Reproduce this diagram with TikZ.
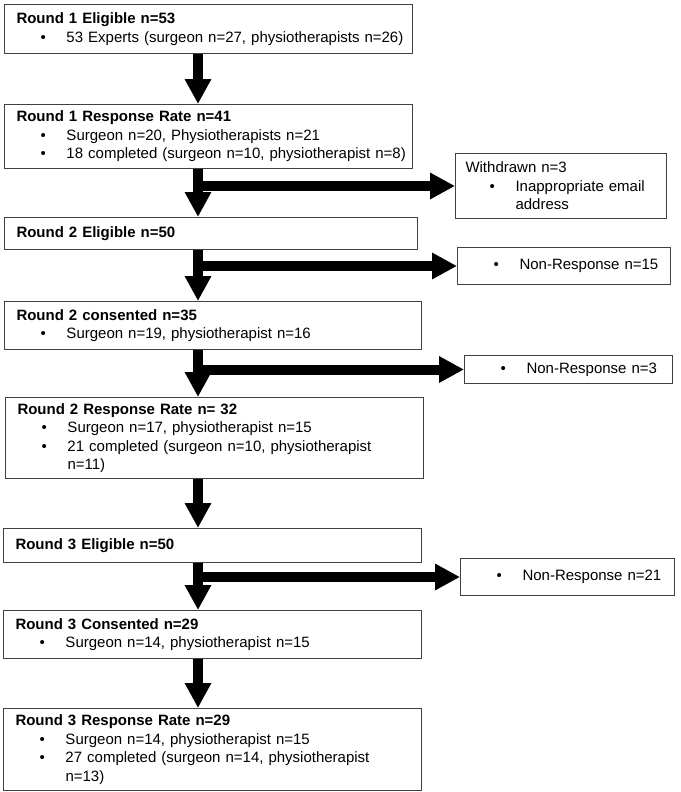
\documentclass[tikz,border=0pt]{standalone}
\usepackage{fontspec}
\setmainfont{Liberation Sans}
\usetikzlibrary{arrows.meta}
\newcommand{\ttl}[1]{\mbox{\hspace*{6pt}#1}}
\newcommand{\bul}[1]{\mbox{\hspace*{30pt}\makebox[26pt][l]{\textbullet}#1}}
\newcommand{\cont}[1]{\mbox{\hspace*{56pt}#1}}
\begin{document}
\begin{tikzpicture}[x=1pt,y=-1pt,
  box/.style={draw=black!75, line width=1pt, anchor=north west, align=left,
    text width=#1-12pt, inner xsep=6pt, inner ysep=0pt, font=\fontsize{15}{18.5}\selectfont},
  bigarrow/.style={line width=10pt, -{Triangle[length=25pt,width=25pt]}}]
\useasboundingbox (0,0) rectangle (680,792);
\coordinate (spine) at (198,0);
% main column
\node[box=408pt, minimum height=49pt] (b1) at (4,4)
  {\ttl{\textbf{Round 1 Eligible n=53}}\\ \bul{53 Experts (surgeon n=27, physiotherapists n=26)}};
\node[box=408pt, minimum height=64pt] (b2) at (4,104)
  {\ttl{\textbf{Round 1 Response Rate n=41}}\\ \bul{Surgeon n=20, Physiotherapists n=21}\\ \bul{18 completed (surgeon n=10, physiotherapist n=8)}};
\node[box=413pt, minimum height=32pt] (b3) at (4,217)
  {\ttl{\textbf{Round 2 Eligible n=50}}};
\node[box=417pt, minimum height=48pt] (b4) at (4,301)
  {\ttl{\textbf{Round 2 consented n=35}}\\ \bul{Surgeon n=19, physiotherapist n=16}};
\node[box=418pt, minimum height=81pt] (b5) at (5,397)
  {\ttl{\textbf{Round 2 Response Rate n= 32}}\\ \bul{Surgeon n=17, physiotherapist n=15}\\ \bul{21 completed (surgeon n=10, physiotherapist}\\ \cont{n=11)}};
\node[box=418pt, minimum height=34pt] (b6) at (3,528)
  {\ttl{\textbf{Round 3 Eligible n=50}}};
\node[box=418pt, minimum height=48pt] (b7) at (3,610)
  {\ttl{\textbf{Round 3 Consented n=29}}\\ \bul{Surgeon n=14, physiotherapist n=15}};
\node[box=418pt, minimum height=82pt] (b8) at (3,708)
  {\ttl{\textbf{Round 3 Response Rate n=29}}\\ \bul{Surgeon n=14, physiotherapist n=15}\\ \bul{27 completed (surgeon n=14, physiotherapist}\\ \cont{n=13)}};
% side boxes
\node[box=211pt, minimum height=65pt] (s1) at (455,153)
  {\mbox{\hspace*{4pt}Withdrawn n=3}\\ \mbox{\hspace*{-2pt}\bul{Inappropriate email}}\\ \mbox{\hspace*{-2pt}\cont{address}}};
\node[box=213pt, minimum height=37pt] (s2) at (457,247)
  {\bul{Non-Response n=15}};
\node[box=208pt, minimum height=28pt] (s3) at (464,355)
  {\bul{Non-Response n=3}};
\node[box=214pt, minimum height=37pt] (s4) at (460,558)
  {\bul{Non-Response n=21}};
% arrows
\draw[bigarrow] (b1.south -| spine) -- (b2.north -| spine);
\draw[bigarrow] (b2.south -| spine) -- (b3.north -| spine);
\draw[bigarrow] (spine |- s1.west) -- (s1.west);
\draw[bigarrow] (b3.south -| spine) -- (b4.north -| spine);
\draw[bigarrow] (spine |- s2.west) -- (s2.west);
\draw[bigarrow] (b4.south -| spine) -- (b5.north -| spine);
\draw[bigarrow] (spine |- s3.west) -- (s3.west);
\draw[bigarrow] (b5.south -| spine) -- (b6.north -| spine);
\draw[bigarrow] (b6.south -| spine) -- (b7.north -| spine);
\draw[bigarrow] (spine |- s4.west) -- (s4.west);
\draw[bigarrow] (b7.south -| spine) -- (b8.north -| spine);
\end{tikzpicture}
\end{document}
